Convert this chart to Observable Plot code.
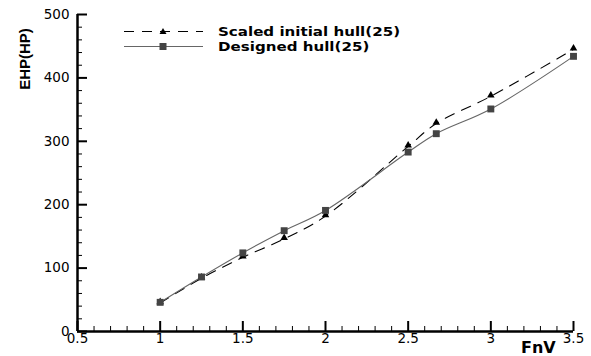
<!DOCTYPE html>
<html><head><meta charset="utf-8">
<script src="https://cdn.jsdelivr.net/npm/d3@7"></script>
<script src="https://cdn.jsdelivr.net/npm/@observablehq/plot@0.6"></script>
<style>
body{margin:0;background:#fff}
#wrap{position:relative;width:591px;height:356px;overflow:hidden;font-family:"DejaVu Sans",sans-serif}
.lab{position:absolute;font-weight:bold;color:#000;white-space:nowrap}
#legend{position:absolute;left:122px;top:24px}
#legend .row{display:flex;align-items:center;height:15px}
#legend .row span{font-family:"DejaVu Sans",sans-serif;font-weight:bold;font-size:13px;margin-left:14px;display:inline-block;transform:scaleX(1.16);transform-origin:left center}
</style>
</head><body><div id="wrap"></div>
<script>
const fnv = [1, 1.25, 1.5, 1.75, 2, 2.5, 2.67, 3, 3.5];
const scaledInitial = [45, 84, 117, 146, 182, 292, 328, 371, 445];
const designed = [46, 86, 124, 159, 191, 283, 312, 351, 434];
const seriesNames = ["Scaled initial hull(25)", "Designed hull(25)"];
const xTicks = [0.5, 1, 1.5, 2, 2.5, 3, 3.5];
const yTicks = [0, 100, 200, 300, 400, 500];
const xMinor = d3.range(6, 35).map(d => d / 10).filter(d => !xTicks.includes(d));
const yMinor = d3.range(0, 501, 20).filter(d => !yTicks.includes(d));
const xLabel = "FnV", yLabel = "EHP(HP)";

const W = 591, H = 356, mL = 77, mR = 18, mT = 14, mB = 25;
const pw = W - mL - mR, ph = H - mT - mB;

const rowsA = fnv.map((x, i) => ({x, y: scaledInitial[i]}));
const rowsB = fnv.map((x, i) => ({x, y: designed[i]}));

const chart = Plot.plot({
  width: W, height: H,
  marginLeft: mL, marginRight: mR, marginTop: mT, marginBottom: mB,
  style: {fontFamily: '"DejaVu Sans", sans-serif', fontSize: "13.5px", color: "#000", background: "#fff"},
  x: {domain: [0.5, 3.5], label: null},
  y: {domain: [0, 500], label: null},
  marks: [
    Plot.axisX({ticks: xTicks, tickSize: 0, tickPadding: 2, label: null, tickFormat: d => String(d)}),
    Plot.axisY({ticks: yTicks, tickSize: 0, tickPadding: 8, label: null}),
    Plot.ruleX(xTicks, {insetTop: ph - 10, stroke: "#000", strokeWidth: 2}),
    Plot.ruleX(xMinor, {insetTop: ph - 5, stroke: "#000", strokeWidth: 1}),
    Plot.ruleY(yTicks, {insetRight: pw - 10, stroke: "#000", strokeWidth: 2}),
    Plot.ruleY(yMinor, {insetRight: pw - 5, stroke: "#000", strokeWidth: 1}),
    Plot.ruleY([0], {stroke: "#000", strokeWidth: 2.5}),
    Plot.ruleX([0.5], {stroke: "#000", strokeWidth: 2.5}),
    Plot.line(rowsA, {x: "x", y: "y", curve: "catmull-rom", stroke: "#000", strokeWidth: 1.1, strokeDasharray: "10,8"}),
    Plot.line(rowsB, {x: "x", y: "y", curve: "catmull-rom", stroke: "#666", strokeWidth: 1.1}),
    Plot.dot(rowsA, {x: "x", y: "y", symbol: "triangle", r: 2.8, fill: "#000", stroke: null, dy: -1}),
    Plot.dot(rowsB, {x: "x", y: "y", symbol: "square", r: 3.9, fill: "#444", stroke: null})
  ]
});
const wrap = document.getElementById("wrap");
wrap.appendChild(chart);

const yl = document.createElement("div");
yl.className = "lab"; yl.textContent = yLabel;
yl.style.cssText += 'font-family:"Liberation Sans",Arial,sans-serif;font-size:15px;left:24px;top:59px;transform:translate(-50%,-50%) rotate(-90deg);';
wrap.appendChild(yl);
const xl = document.createElement("div");
xl.className = "lab"; xl.textContent = xLabel;
xl.style.cssText += "font-size:16px;line-height:16px;left:521px;top:340px;";
wrap.appendChild(xl);

const leg = document.createElement("div");
leg.id = "legend";
const styles = [{dash: "10,8", col: "#000", sym: "tri"}, {dash: null, col: "#666", sym: "sq"}];
seriesNames.forEach((name, i) => {
  const s = styles[i];
  const row = document.createElement("div"); row.className = "row";
  const mk = s.sym === "tri"
    ? `<path d="M41,4 L44.5,10 L37.5,10 Z" fill="#000"/>`
    : `<rect x="37.5" y="4" width="7" height="7" fill="#444"/>`;
  row.innerHTML = `<svg width="82" height="15"><line x1="2" y1="7.5" x2="81" y2="7.5" stroke="${s.col}" stroke-width="1.1" ${s.dash ? `stroke-dasharray="${s.dash}"` : ""}/>${mk}</svg><span>${name}</span>`;
  leg.appendChild(row);
});
wrap.appendChild(leg);
</script>
</body></html>
